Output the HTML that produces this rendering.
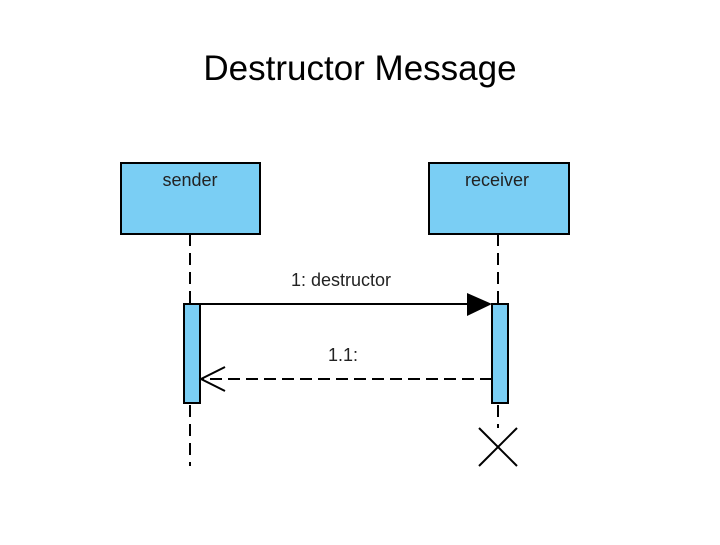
<!DOCTYPE html>
<html><head><style>
body{margin:0;background:#fff;width:720px;height:540px;overflow:hidden}
</style></head><body>
<svg width="720" height="540" xmlns="http://www.w3.org/2000/svg">
<text x="360" y="80" text-anchor="middle" font-family="Liberation Sans, sans-serif" font-size="35" fill="#000">Destructor Message</text>
<g stroke="#000" stroke-width="2">
<rect x="121" y="163" width="139" height="71" fill="#7acef4"/>
<rect x="429" y="163" width="140" height="71" fill="#7acef4"/>
<line x1="190" y1="234" x2="190" y2="466" stroke-dasharray="12,7"/>
<line x1="498" y1="234" x2="498" y2="428" stroke-dasharray="12,7"/>
<rect x="184" y="304" width="16" height="99" fill="#7acef4"/>
<rect x="492" y="304" width="16" height="99" fill="#7acef4"/>
<line x1="200" y1="304" x2="470" y2="304"/>
<line x1="492" y1="379" x2="201" y2="379" stroke-dasharray="12,6"/>
<polyline points="225,367 201,379 225,391" fill="none"/>
<line x1="479" y1="428" x2="517" y2="466"/>
<line x1="517" y1="428" x2="479" y2="466"/>
</g>
<polygon points="467,293 492,304 467,316" fill="#000"/>
<g font-family="Liberation Sans, sans-serif" font-size="18" fill="#222" text-anchor="middle">
<text x="190" y="186">sender</text>
<text x="497" y="186">receiver</text>
<text x="341" y="286">1: destructor</text>
<text x="343" y="361">1.1:</text>
</g>
</svg>
</body></html>
